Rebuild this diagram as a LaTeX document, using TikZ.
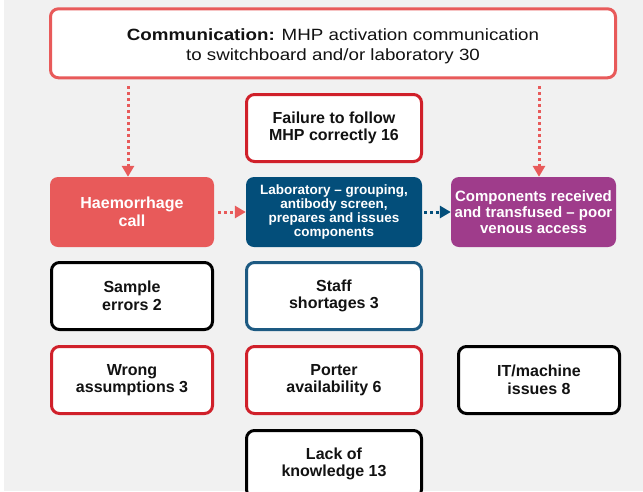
\documentclass[tikz,border=0pt]{standalone}
\usepackage{fontspec}
\setmainfont{Liberation Sans}
\newfontfamily\widefont{Liberation Sans}[FakeStretch=1.15]
\usetikzlibrary{arrows.meta}
\definecolor{commred}{HTML}{E85A5A}
\definecolor{darkred}{HTML}{D0202A}
\definecolor{labblue}{HTML}{034E7A}
\definecolor{staffblue}{HTML}{1D5A82}
\definecolor{comppurple}{HTML}{9F3C8B}
\definecolor{bggray}{HTML}{F1F1F1}

\begin{document}
\begin{tikzpicture}[x=1pt,y=-1pt,node distance=84pt,
  box/.style={rounded corners=8pt,align=center,line width=3pt,fill=white,text=black!93,
    font=\bfseries\fontsize{16}{17.5}\selectfont,minimum height=67pt,inner sep=2pt},
  stepfill/.style={rounded corners=8pt,align=center,text=white,minimum height=70pt,inner sep=2pt},
  dots/.style={line width=3pt,dash pattern=on 3pt off 3pt,-{Triangle[length=11pt,width=12pt]}}]
\clip (0,0) rectangle (643,491);
\fill[white] (0,0) rectangle (643,491);
\fill[bggray] (4,0) rectangle (643,491);

% top of the chain
\node[box,draw=commred,minimum width=565pt,minimum height=69pt,
  font=\widefont\fontsize{16.3}{20}\selectfont] (T) at (333,43.3)
  {\rule{0pt}{18pt}\textbf{Communication:} MHP activation communication\\to switchboard and/or laboratory 30};

% the three steps
\node[stepfill,fill=commred,minimum width=164pt,font=\bfseries\fontsize{16}{17.5}\selectfont] (H) at (132,212) {Haemorrhage\\call};
\node[stepfill,fill=labblue,minimum width=176pt,font=\bfseries\fontsize{13.5}{14.3}\selectfont] (L) [right of=H, node distance=202pt]
  {Laboratory -- grouping,\\antibody screen,\\prepares and issues\\components};
\node[stepfill,fill=comppurple,minimum width=165pt,font=\bfseries\fontsize{15}{16}\selectfont] (C) [right of=L, node distance=199.5pt]
  {Components received\\and transfused -- poor\\venous access};

% contributing factors
\node[box,draw=darkred,minimum width=175pt] (F) [above of=L] {Failure to follow\\MHP correctly 16};
\node[box,draw=black,minimum width=161pt] (S) [below of=H] {Sample\\errors 2};
\node[box,draw=staffblue,minimum width=175pt] (N) [below of=L] {Staff\\shortages 3};
\node[box,draw=darkred,minimum width=161pt] (W) [below of=S] {Wrong\\assumptions 3};
\node[box,draw=darkred,minimum width=175pt] (P) [below of=N] {Porter\\availability 6};
\node[box,draw=black,minimum width=161pt] (I) [below of=C, node distance=168pt, xshift=5.5pt] {IT/machine\\issues 8};
\node[box,draw=black,minimum width=175pt] (K) [below of=P] {Lack of\\knowledge 13};

\coordinate (hin) at ([xshift=-4pt]H.north);
\coordinate (cin) at ([xshift=5.5pt]C.north);
\draw[dots,commred,shorten <=7pt] (T.south -| hin) -- (hin);
\draw[dots,commred,shorten <=7pt] (T.south -| cin) -- (cin);
\draw[dots,commred,shorten <=4pt] (H) -- (L);
\draw[dots,labblue,shorten <=2pt] (L) -- (C);
\end{tikzpicture}
\end{document}
